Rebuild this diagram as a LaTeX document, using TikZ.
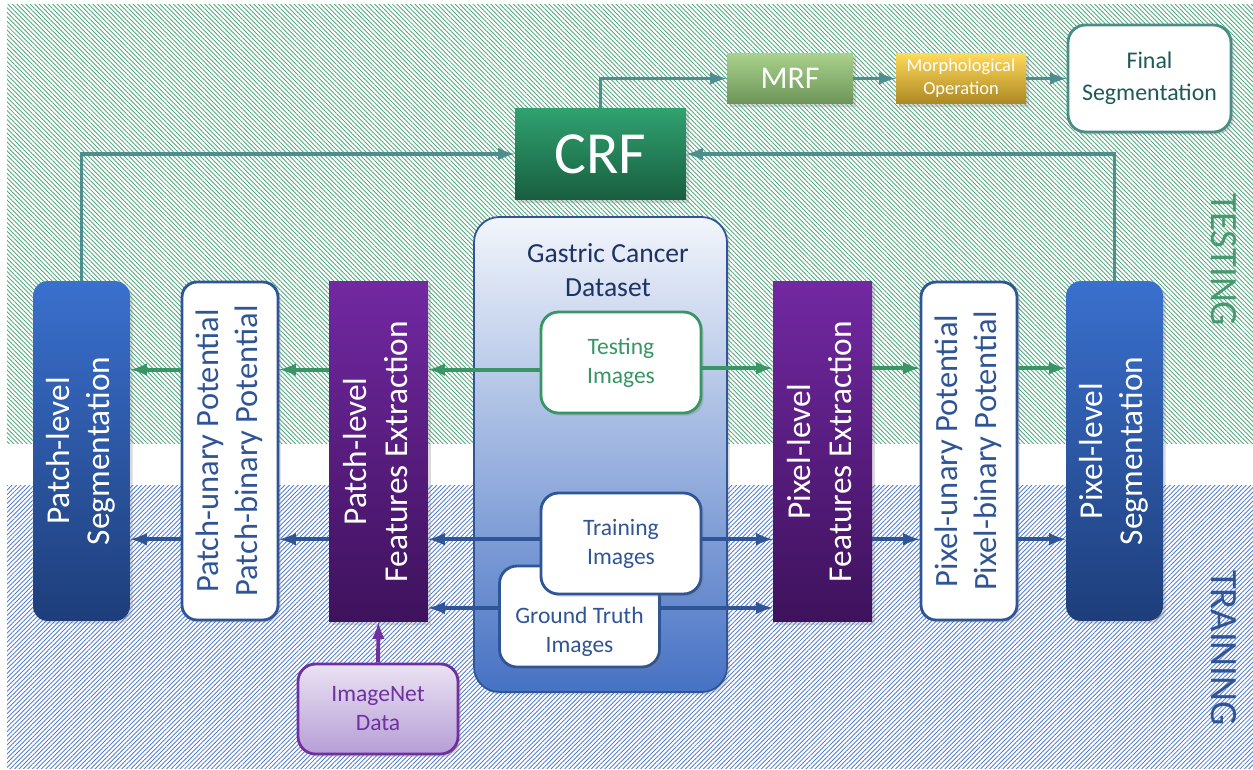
\documentclass[tikz,border=0pt]{standalone}
\usepackage{fontspec}
\setmainfont{Carlito}
\usepackage{graphicx}
\usetikzlibrary{patterns.meta,shadows}

\definecolor{hatchgreen}{RGB}{80,170,125}
\definecolor{hatchblue}{RGB}{85,125,210}
\definecolor{tealline}{RGB}{78,142,142}
\definecolor{testgreen}{RGB}{55,150,100}
\definecolor{navy}{RGB}{47,85,151}
\definecolor{darknavy}{RGB}{31,50,100}
\definecolor{segtop}{RGB}{58,112,206}
\definecolor{segbot}{RGB}{30,62,122}
\definecolor{purptop}{RGB}{114,40,162}
\definecolor{purpbot}{RGB}{62,18,92}
\definecolor{crftop}{RGB}{48,162,112}
\definecolor{crfbot}{RGB}{24,94,64}
\definecolor{mrftop}{RGB}{170,210,140}
\definecolor{mrfbot}{RGB}{108,148,88}
\definecolor{morphtop}{RGB}{255,218,90}
\definecolor{morphbot}{RGB}{172,135,35}
\definecolor{inettop}{RGB}{234,226,242}
\definecolor{inetbot}{RGB}{182,158,214}
\definecolor{inetline}{RGB}{112,48,160}
\definecolor{dstop}{RGB}{242,245,251}
\definecolor{dsmid}{RGB}{196,210,236}
\definecolor{dsbot}{RGB}{70,114,196}
\definecolor{finalteal}{RGB}{74,140,134}
\definecolor{finaltext}{RGB}{30,90,88}

\newcommand{\uprot}[2]{\rotatebox{90}{\begin{tabular}{@{}c@{}}#1\\#2\end{tabular}}}

\begin{document}
\begin{tikzpicture}[x=0.02cm,y=-0.02cm,
  box/.style={inner sep=0pt,align=center,drop shadow={shadow xshift=1.5pt,shadow yshift=-1.5pt,opacity=0.3}},
  segbox/.style={box,rounded corners=0.3cm,top color=segtop,bottom color=segbot,text=white,
    minimum width=1.94cm,minimum height=6.8cm,font=\fontsize{19}{23}\selectfont},
  potbox/.style={box,draw=navy,line width=1.6pt,rounded corners=0.3cm,fill=white,text=navy,
    minimum width=1.92cm,minimum height=6.76cm,font=\fontsize{18.5}{22}\selectfont},
  featbox/.style={box,top color=purptop,bottom color=purpbot,text=white,
    minimum width=1.98cm,minimum height=6.82cm,font=\fontsize{19}{23.5}\selectfont},
  imgbox/.style={box,fill=white,line width=1.6pt,rounded corners=0.35cm,
    minimum width=3.2cm,minimum height=2.02cm,font=\fontsize{13.4}{16.5}\selectfont},
  conn/.style={line width=2.2pt,-latex}]
\useasboundingbox (0,0) rectangle (1253,770);

%hatched bands
\fill[pattern={Lines[angle=-45,distance=1.8pt,line width=0.5pt]},pattern color=hatchgreen] (7,5) rectangle (1253,443);
\fill[pattern={Lines[angle=45,distance=1.8pt,line width=0.5pt]},pattern color=hatchblue] (7,485) rectangle (1253,768);
\node[rotate=-90,text=hatchgreen!90!black,font=\fontsize{22}{26}\selectfont] (testlbl) at (1224,260) {TESTING};
\node[rotate=-90,text=navy,font=\fontsize{22}{26}\selectfont] (trainlbl) at (1224,648) {TRAINING};

%top row
\node[box,top color=crftop,bottom color=crfbot,text=white,minimum width=3.42cm,minimum height=1.84cm,
  font=\fontsize{34}{40}\selectfont] (crf) at (600.5,154) {CRF};
\node[box,top color=mrftop,bottom color=mrfbot,text=white,minimum width=2.52cm,minimum height=1.02cm,
  font=\fontsize{18}{22}\selectfont] (mrf) at (790,78.5) {MRF};
\node[box,top color=morphtop,bottom color=morphbot,text=white,minimum width=2.6cm,minimum height=1.02cm,
  font=\fontsize{10.5}{13}\selectfont] (morph) at (961,78.5) {Morphological\\Operation};
\node[box,draw=finalteal,line width=1.6pt,fill=white,rounded corners=0.35cm,text=finaltext,
  minimum width=3.26cm,minimum height=2.14cm,font=\fontsize{13.6}{18}\selectfont] (final) at (1149.5,78.5) {Final\\Segmentation};

%patch side
\node[segbox] (patchseg) at (81.5,451) {\uprot{Patch-level}{Segmentation}};
\node[potbox] (patchpot) at (230,451) {\uprot{Patch-unary Potential}{Patch-binary Potential}};
\node[featbox] (patchfeat) at (378.5,451.5) {\uprot{Patch-level}{Features Extraction}};

%dataset
\node[box,draw=navy,line width=1pt,rounded corners=0.5cm,top color=dstop,middle color=dsmid,bottom color=dsbot,
  minimum width=5.06cm,minimum height=9.5cm] (dataset) at (600.5,454.5) {};
\node[text=darknavy,align=center,font=\fontsize{15.7}{19.5}\selectfont] (dstitle) at (608,270) {Gastric Cancer\\Dataset};
\node[imgbox,draw=testgreen,text=testgreen] (testimg) at (621,362.5) {Testing\\Images};
\node[imgbox,draw=navy,text=navy] (gtimg) at (579.5,616.5) {\rule{0pt}{0.95cm}Ground Truth\\Images};
\node[imgbox,draw=navy,text=navy] (trainimg) at (621,543.5) {Training\\Images};

%pixel side
\node[featbox] (pixfeat) at (822.5,451.5) {\uprot{Pixel-level}{Features Extraction}};
\node[potbox] (pixpot) at (969,451) {\uprot{Pixel-unary Potential}{Pixel-binary Potential}};
\node[segbox] (pixseg) at (1114.5,451) {\uprot{Pixel-level}{Segmentation}};

\node[box,draw=inetline,line width=1.6pt,rounded corners=0.35cm,top color=inettop,bottom color=inetbot,text=inetline,
  minimum width=3.2cm,minimum height=1.8cm,font=\fontsize{13.4}{16.5}\selectfont] (imagenet) at (378,709) {ImageNet\\Data};

%teal connectors
\draw[conn,tealline] (patchseg.north) |- (crf.west);
\draw[conn,tealline] (pixseg.north) |- (crf.east);
\draw[conn,tealline] (crf.north) |- (mrf.west);
\draw[conn,tealline] (mrf.east) -- (morph.west);
\draw[conn,tealline] (morph.east) -- (final.west);

%testing
\draw[conn,testgreen] (testimg.185) -- (testimg.185 -| patchfeat.east);
\draw[conn,testgreen] (patchfeat.west |- testimg.185) -- (patchpot.east |- testimg.185);
\draw[conn,testgreen] (patchpot.west |- testimg.185) -- (patchseg.east |- testimg.185);
\draw[conn,testgreen] (testimg.-4) -- (testimg.-4 -| pixfeat.west);
\draw[conn,testgreen] (pixfeat.east |- testimg.-4) -- (pixpot.west |- testimg.-4);
\draw[conn,testgreen] (pixpot.east |- testimg.-4) -- (pixseg.west |- testimg.-4);

%training
\draw[conn,navy] (trainimg.177) -- (trainimg.177 -| patchfeat.east);
\draw[conn,navy] (patchfeat.west |- trainimg.177) -- (patchpot.east |- trainimg.177);
\draw[conn,navy] (patchpot.west |- trainimg.177) -- (patchseg.east |- trainimg.177);
\draw[conn,navy] (trainimg.3) -- (trainimg.3 -| pixfeat.west);
\draw[conn,navy] (pixfeat.east |- trainimg.3) -- (pixpot.west |- trainimg.3);
\draw[conn,navy] (pixpot.east |- trainimg.3) -- (pixseg.west |- trainimg.3);
\draw[conn,navy] (gtimg.174) -- (gtimg.174 -| patchfeat.east);
\draw[conn,navy] (gtimg.6) -- (gtimg.6 -| pixfeat.west);

\draw[conn,inetline] (imagenet.north) -- (patchfeat.south);
\end{tikzpicture}
\end{document}
